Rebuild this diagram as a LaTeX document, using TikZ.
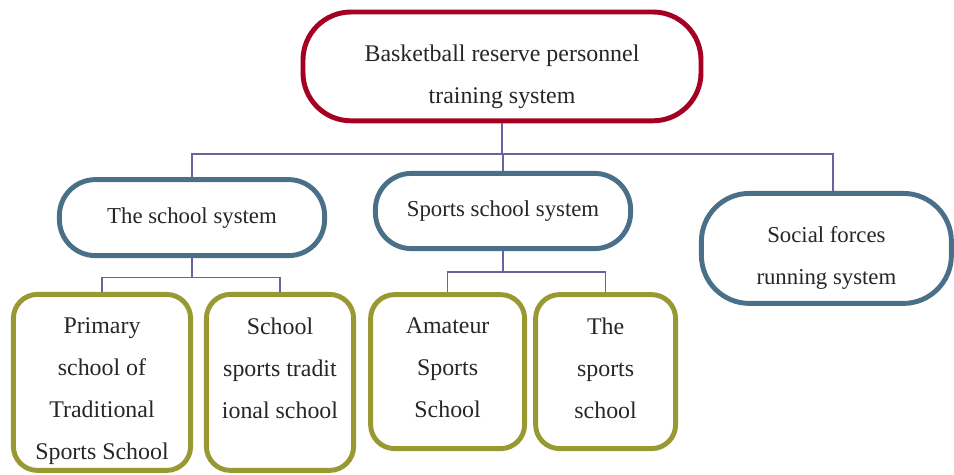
\documentclass[tikz,border=0pt]{standalone}
\usepackage{fontspec}
\setmainfont{Liberation Serif}
\usetikzlibrary{positioning}

\definecolor{rootred}{RGB}{165,0,33}
\definecolor{sysblue}{RGB}{74,112,137}
\definecolor{schoololive}{RGB}{153,153,51}
\definecolor{linkblue}{RGB}{104,100,160}

\tikzset{
  stadium/.style={draw, line width=3.5pt, fill=white, align=center, text=black!85,
    font=\fontsize{16.2}{30}\selectfont},
  rootbox/.style={stadium, draw=rootred, rounded corners=1.2cm},
  sysbox/.style={stadium, draw=sysblue},
  schoolbox/.style={draw=schoololive, line width=3.5pt, rounded corners=0.6cm},
  boxtext/.style={align=center, inner sep=0pt, text=black!85, font=\fontsize{17}{30}\selectfont},
  link/.style={draw=linkblue, line width=1.1pt}
}

\begin{document}
\begin{tikzpicture}
\useasboundingbox (0,0) rectangle (23.85,-11.85);

% top level
\node[rootbox, minimum width=9.95cm, minimum height=2.72cm] (root) at (12.55,-1.66) {};
\node[boxtext] (roottext) at ([yshift=-0.25cm]root.center) {Basketball reserve personnel\\training system};

% second level
\node[sysbox, rounded corners=0.9cm, minimum width=6.63cm, minimum height=1.9cm] (school) at (4.8,-5.44) {The school system};
\node[sysbox, rounded corners=0.9cm, minimum width=6.38cm, minimum height=1.88cm] (sports) at (12.575,-5.275) {Sports school system};
\node[sysbox, rounded corners=1.2cm, minimum width=6.25cm, minimum height=2.75cm] (social) at (20.66,-6.21) {};
\node[boxtext, font=\fontsize{16.2}{30}\selectfont] (socialtext) at ([yshift=-0.23cm]social.center) {Social forces\\running system};

% third level
\node[schoolbox, minimum width=4.43cm, minimum height=4.4cm] (primary) at (2.55,-9.56) {};
\node[schoolbox, minimum width=3.68cm, minimum height=4.4cm] (tradit) at (7.0,-9.56) {};
\node[schoolbox, minimum width=3.85cm, minimum height=3.85cm] (amateur) at (11.19,-9.29) {};
\node[schoolbox, minimum width=3.5cm, minimum height=3.85cm] (sportsch) at (15.14,-9.29) {};

\node[boxtext, below=0.63cm of primary.north] (primarytext) {Primary\\school of\\Traditional\\Sports School};
\node[boxtext, below=0.63cm of tradit.north] (tradittext) {School\\sports tradit\\ional school};
\node[boxtext, below=0.63cm of amateur.north] (amateurtext) {Amateur\\Sports\\School};
\node[boxtext, below=0.63cm of sportsch.north] (sportschtext) {The\\sports\\school};

% connectors
\coordinate (bus) at (0,-3.85);
\draw[link] (root.south) -- (root.south |- bus) -| (school.north);
\draw[link] (root.south |- bus) -| (sports.north);
\draw[link] (root.south |- bus) -| ([xshift=0.165cm]social.north);
\foreach \child in {primary,tradit}
  \draw[link] (school.south) -- ++(0,-0.49) -| (\child.north);
\foreach \child in {amateur,sportsch}
  \draw[link] (sports.south) -- ++(0,-0.53) -| (\child.north);

\end{tikzpicture}
\end{document}
